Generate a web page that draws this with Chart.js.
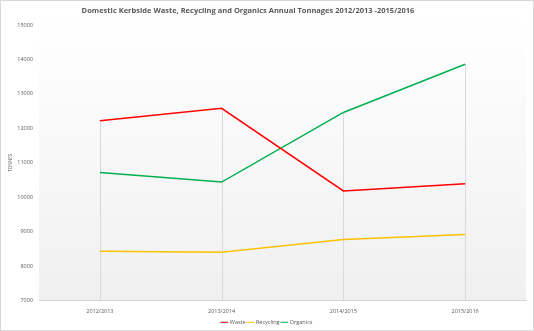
<!DOCTYPE html>
<html>
<head>
<meta charset="utf-8">
<script src="https://cdn.jsdelivr.net/npm/chart.js@4/dist/chart.umd.min.js"></script>
<style>
  body { margin: 0; background: #fff; }
  #wrap { width: 534px; height: 331px; box-sizing: border-box; border: 1px solid #d9d9d9; }
</style>
</head>
<body>
<div id="wrap"><canvas id="tonnage-chart" width="532" height="329"></canvas></div>
<script>
var chartTitle = 'Domestic Kerbside Waste, Recycling and Organics Annual Tonnages 2012/2013 -2015/2016';
var years = ['2012/2013', '2013/2014', '2014/2015', '2015/2016'];
var waste = [12220, 12580, 10180, 10390];
var recycling = [8430, 8400, 8770, 8920];
var organics = [10720, 10440, 12460, 13860];

// Excel style drop lines from the top point down to the axis
var dropLines = {
    id: 'dropLines',
    beforeDatasetsDraw: function(chart){
        var ctx = chart.ctx;
        var x = chart.scales.x, y = chart.scales.y;
        ctx.save();
        ctx.strokeStyle = '#d9d9d9';
        ctx.lineWidth = 1;
        years.forEach(function(label, i){
            var top = Math.max(waste[i], recycling[i], organics[i]);
            var px = Math.round(x.getPixelForValue(i)) + 0.5;
            ctx.beginPath();
            ctx.moveTo(px, y.getPixelForValue(top));
            ctx.lineTo(px, chart.chartArea.bottom);
            ctx.stroke();
        });
        ctx.restore();
    }
};

var plotBackground = {
    id: 'plotBackground',
    beforeDraw: function(chart){
        var a = chart.chartArea, ctx = chart.ctx;
        var g = ctx.createLinearGradient(0, a.top - 8, 0, a.bottom);
        g.addColorStop(0, '#ffffff');
        g.addColorStop(1, '#f0f0f0');
        ctx.save();
        ctx.fillStyle = g;
        ctx.fillRect(a.left, a.top - 8, a.right - a.left, a.bottom - a.top + 8);
        ctx.restore();
    }
};

// title sits a little left of the canvas centre, like the Excel original
var offCentreTitle = {
    id: 'offCentreTitle',
    afterDraw: function(chart){
        var ctx = chart.ctx;
        ctx.save();
        ctx.fillStyle = '#595959';
        ctx.font = 'bold 7.5px "Open Sans"';
        ctx.textAlign = 'center';
        ctx.textBaseline = 'middle';
        ctx.fillText(chartTitle, 247, 10);
        ctx.restore();
    }
};

new Chart(document.getElementById('tonnage-chart'), {
    type: 'line',
    data: {
        labels: years,
        datasets: [{
            label: 'Waste',
            data: waste,
            borderColor: '#ff0000',
            backgroundColor: '#ff0000'
        }, {
            label: 'Recycling',
            data: recycling,
            borderColor: '#ffc000',
            backgroundColor: '#ffc000'
        }, {
            label: 'Organics',
            data: organics,
            borderColor: '#00b050',
            backgroundColor: '#00b050'
        }]
    },
    plugins: [plotBackground, dropLines, offCentreTitle],
    options: {
        responsive: false,
        animation: false,
        layout: { padding: { left: 7, right: 7, top: 24, bottom: -5 } },
        elements: {
            line: { borderWidth: 1.5, tension: 0 },
            point: { radius: 0 }
        },
        plugins: {
            title: { display: false },
            legend: {
                position: 'bottom',
                labels: {
                    usePointStyle: true,
                    pointStyle: 'line',
                    boxWidth: 14,
                    color: '#595959',
                    font: { family: 'Open Sans', size: 5.5 },
                    padding: 2
                }
            },
            tooltip: { enabled: false }
        },
        scales: {
            x: {
                offset: true,
                afterFit: function(scale){ scale.height = 17; },
                grid: { display: false, drawTicks: false },
                border: { color: '#d9d9d9' },
                ticks: { color: '#595959', font: { family: 'Open Sans', size: 5.5 }, padding: 8 }
            },
            y: {
                min: 7000,
                max: 15000,
                afterFit: function(scale){ scale.width = 31; },
                grid: { display: false, drawTicks: false },
                border: { display: false },
                ticks: {
                    stepSize: 1000,
                    color: '#595959',
                    font: { family: 'Open Sans', size: 5.5 },
                    padding: 6,
                    callback: function(v){ return String(v); }
                },
                title: { display: true, text: 'TONNES', color: '#595959', font: { family: 'Open Sans', size: 4.5 }, padding: 0 }
            }
        }
    }
});
</script>
</body>
</html>
